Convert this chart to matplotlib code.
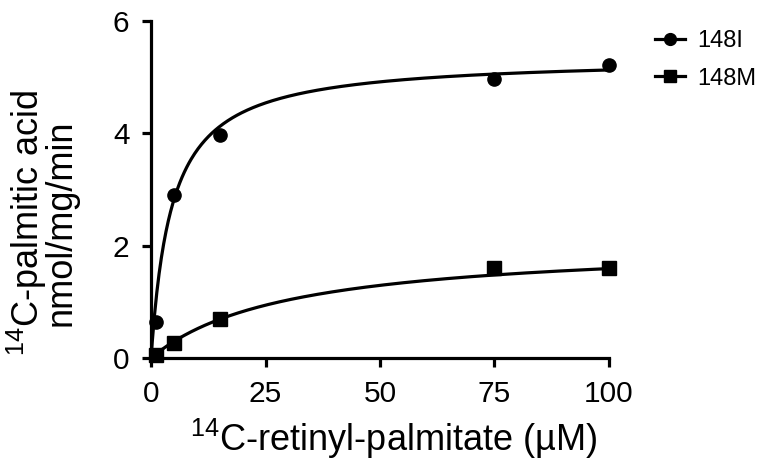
import numpy as np
import matplotlib
matplotlib.use('Agg')
import matplotlib.pyplot as plt

plt.rcParams['font.family'] = ['Liberation Sans', 'DejaVu Sans']
plt.rcParams['mathtext.fontset'] = 'custom'
plt.rcParams['mathtext.rm'] = 'Liberation Sans'
plt.rcParams['mathtext.it'] = 'Liberation Sans'

# substrate concentrations (uM)
conc = [1, 5, 15, 75, 100]
# measured rates (nmol/mg/min)
rate_148I = [0.64, 2.91, 3.97, 4.97, 5.21]
rate_148M = [0.05, 0.26, 0.69, 1.61, 1.60]

# Michaelis-Menten fit parameters (Vmax, Km)
fit_148I = (5.36, 4.5)
fit_148M = (2.07, 30.0)

fig = plt.figure(figsize=(7.63, 4.68), dpi=100)
ax = fig.add_axes([0.198, 0.235, 0.600, 0.720])

xs = np.linspace(0, 100, 400)
for name, vals, fit, mk in [('148I', rate_148I, fit_148I, 'o'),
                            ('148M', rate_148M, fit_148M, 's')]:
    vmax, km = fit
    ax.plot(xs, vmax * xs / (km + xs), color='black', lw=2.3, zorder=2)
    ax.plot(conc, vals, marker=mk, linestyle='none', color='black',
            markersize=9.5, zorder=3)
    ax.plot([], [], marker=mk, color='black', lw=2.3, markersize=8.5, label=name)

ax.set_xlim(0, 100)
ax.set_ylim(0, 6)
ax.set_xticks([0, 25, 50, 75, 100])
ax.set_yticks([0, 2, 4, 6])
ax.spines['top'].set_visible(False)
ax.spines['right'].set_visible(False)
ax.spines['left'].set_linewidth(2.3)
ax.spines['bottom'].set_linewidth(2.3)
ax.tick_params(width=2.3, length=6.5, labelsize=21.5)
ax.tick_params(axis='x', pad=9)
ax.tick_params(axis='y', pad=9)

ax.set_xlabel('$^{14}$C-retinyl-palmitate (\u00b5M)', fontsize=26)
ax.xaxis.set_label_coords(0.53, -0.175)
ax.set_ylabel('$^{14}$C-palmitic acid\nnmol/mg/min', fontsize=26, linespacing=0.8)
ax.yaxis.set_label_coords(-0.158, 0.40)
for ln in ax.lines:
    ln.set_clip_on(False)

fig.legend(loc='upper left', bbox_to_anchor=(0.858, 0.935), frameon=False,
           fontsize=17, handlelength=1.27, labelspacing=0.64, handletextpad=0.55,
           borderpad=0, borderaxespad=0)

fig.savefig('out.png', dpi=100)
